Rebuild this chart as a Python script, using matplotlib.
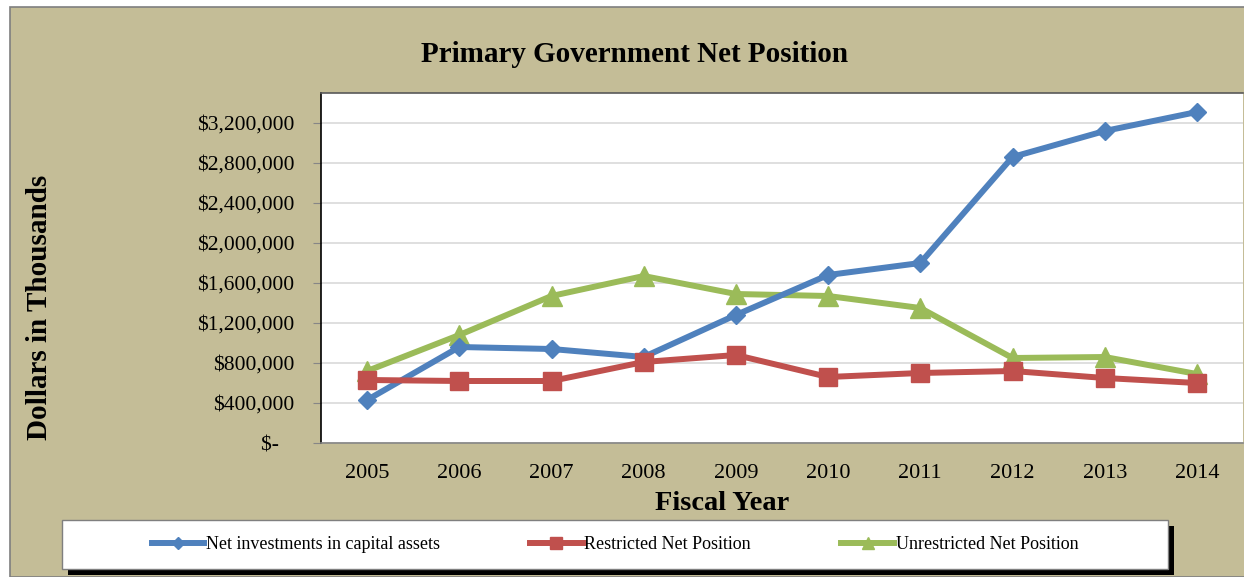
import numpy as np
import matplotlib.pyplot as plt
from matplotlib.patches import Rectangle
from matplotlib.ticker import FuncFormatter

years = ['2005', '2006', '2007', '2008', '2009', '2010', '2011', '2012', '2013', '2014']
net_invest = [430000, 960000, 940000, 860000, 1280000, 1680000, 1800000, 2860000, 3120000, 3310000]
restricted = [630000, 620000, 620000, 810000, 880000, 660000, 700000, 720000, 650000, 600000]
unrestricted = [720000, 1080000, 1470000, 1670000, 1490000, 1470000, 1350000, 850000, 860000, 690000]

tan = '#C4BD97'
plt.rcParams['font.family'] = ['Liberation Serif', 'DejaVu Serif']

W, H = 1244, 577
fig = plt.figure(figsize=(W / 100, H / 100), dpi=100, facecolor='white')

# chart background with border
fig.patches.append(Rectangle((10 / W, 0), 1.0, 1 - 7 / H, transform=fig.transFigure,
                             facecolor=tan, edgecolor='#7F7F7F', linewidth=1.2, zorder=-5))

ax = fig.add_axes([321 / W, 1 - 443 / H, (1243 - 321) / W, (443 - 93) / H])
ax.set_zorder(1)
ax.set_facecolor('white')

x = np.arange(len(years))
ax.plot(x, net_invest, color='#4F81BD', lw=4.3, marker='D', ms=9.5,
        label='Net investments in capital assets', zorder=3)
ax.plot(x, restricted, color='#C0504D', lw=4.3, marker='s', ms=13,
        label='Restricted Net Position', zorder=4)
ax.plot(x, unrestricted, color='#9BBB59', lw=4.3, marker='^', ms=14,
        label='Unrestricted Net Position', zorder=2)

ax.set_xlim(-0.5, len(years) - 0.5)
ax.set_ylim(0, 3500000)
ax.set_xticks(x)
ax.set_xticklabels(years)
ax.set_yticks(np.arange(0, 3200001, 400000))


def money(v, pos):
    if v == 0:
        return '$-   '
    return '${:,.0f}'.format(v)


ax.yaxis.set_major_formatter(FuncFormatter(money))
ax.tick_params(axis='y', length=6, color='#868686', labelsize=15.5, pad=13)
ax.tick_params(axis='x', length=0, labelsize=16, pad=15)
ax.grid(axis='y', color='#D9D9D9', lw=1.2)
ax.set_axisbelow(True)
ax.spines['left'].set_color('black')
ax.spines['left'].set_linewidth(1.2)
ax.spines['bottom'].set_color('#868686')
ax.spines['bottom'].set_linewidth(1.2)
ax.spines['top'].set_color('#595959')
ax.spines['top'].set_linewidth(1.2)
ax.spines['right'].set_visible(False)

fig.text(635 / W, 1 - 54 / H, 'Primary Government Net Position', ha='center', va='center',
         fontsize=21, fontweight='bold')
fig.text(40 / W, 1 - 307 / H, 'Dollars in Thousands', ha='center', va='center',
         rotation=90, fontsize=21, fontweight='bold')
fig.text(722 / W, 1 - 503 / H, 'Fiscal Year', ha='center', va='center',
         fontsize=20.5, fontweight='bold')

# legend box with shadow
bx0, bx1, by0, by1 = 62, 1168, 520, 569
fig.patches.append(Rectangle(((bx0 + 6) / W, 1 - (by1 + 6) / H), (bx1 - bx0) / W, (by1 - by0) / H,
                             transform=fig.transFigure, facecolor='black', edgecolor='none', zorder=5))
fig.patches.append(Rectangle((bx0 / W, 1 - by1 / H), (bx1 - bx0) / W, (by1 - by0) / H,
                             transform=fig.transFigure, facecolor='white', edgecolor='#7F7F7F',
                             linewidth=1, zorder=6))
leg = fig.legend(loc='center', bbox_to_anchor=((bx0 + bx1) / 2 / W, 1 - (by0 + by1) / 2 / H),
                 ncol=3, frameon=False, fontsize=13, handlelength=2.9, handletextpad=0.1,
                 columnspacing=5.0, markerscale=0.65)
leg.set_zorder(7)

fig.savefig('out.png', dpi=100, facecolor=fig.get_facecolor())
